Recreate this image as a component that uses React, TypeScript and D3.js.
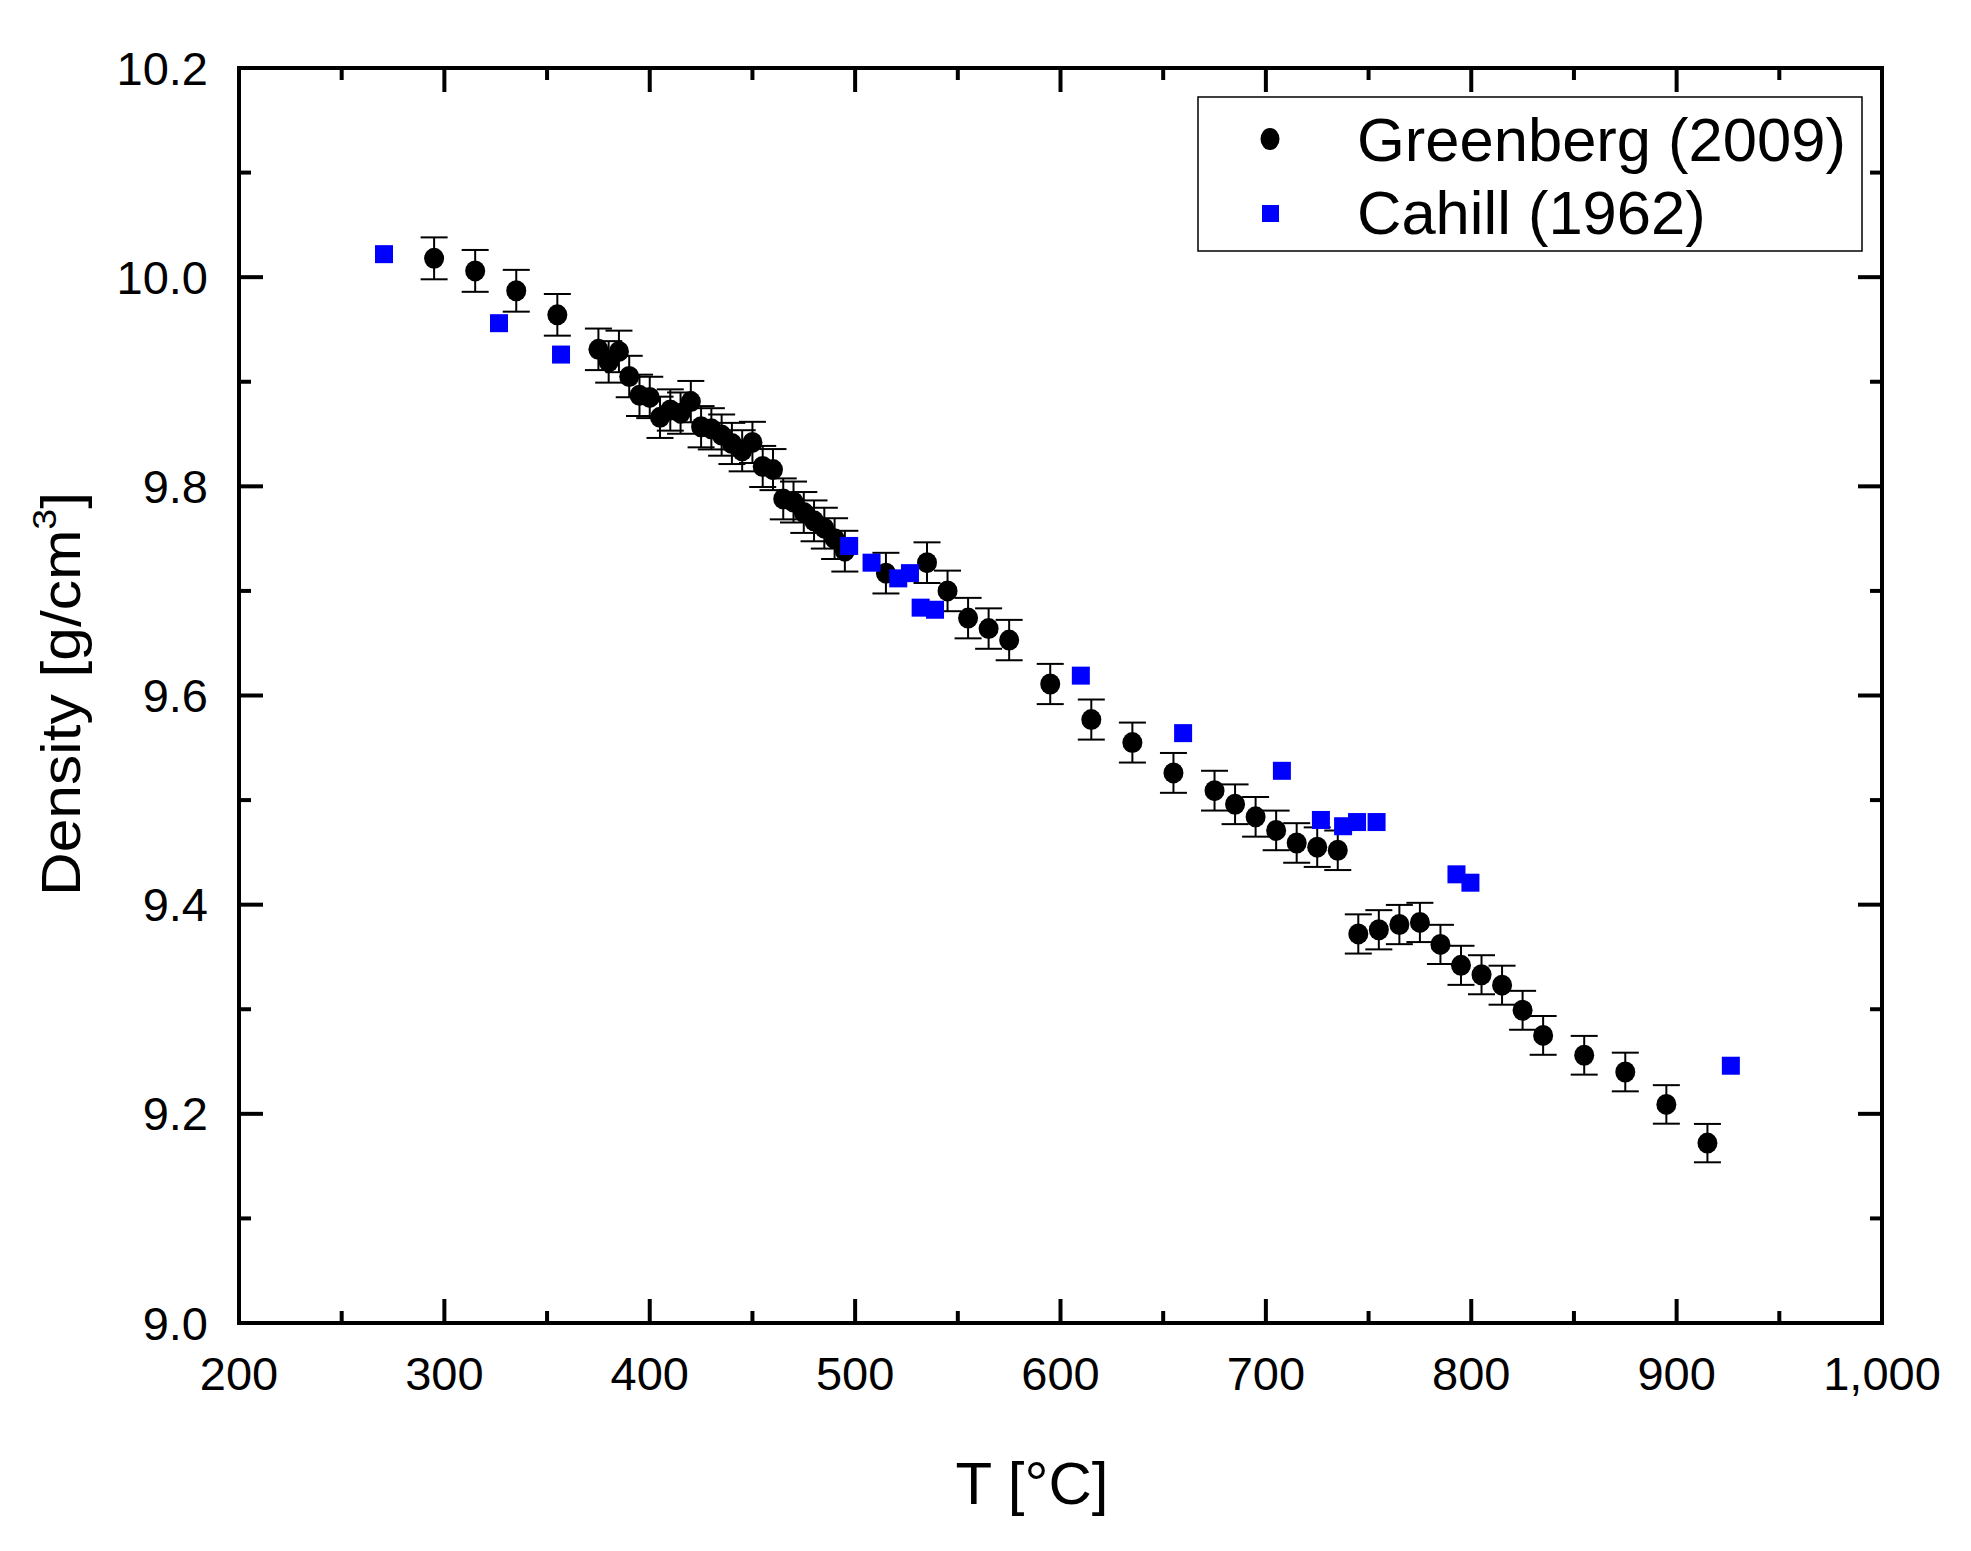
import React from 'react';
import * as d3 from 'd3';

// Greenberg (2009) — temperature [°C] and density [g/cm3]
const greenbergT = [295, 315, 335, 355, 375, 380, 385, 390, 395, 400, 405, 410, 415, 420, 425, 430, 435, 440, 445, 450, 455, 460, 465, 470, 475, 480, 485, 490, 495, 515, 535, 545, 555, 565, 575, 595, 615, 635, 655, 675, 685, 695, 705, 715, 725, 735, 745, 755, 765, 775, 785, 795, 805, 815, 825, 835, 855, 875, 895, 915];
const greenbergD = [10.018, 10.006, 9.987, 9.964, 9.931, 9.919, 9.929, 9.905, 9.887, 9.885, 9.866, 9.873, 9.870, 9.881, 9.857, 9.855, 9.849, 9.841, 9.834, 9.842, 9.819, 9.816, 9.788, 9.785, 9.775, 9.767, 9.760, 9.750, 9.738, 9.717, 9.727, 9.700, 9.674, 9.664, 9.653, 9.611, 9.577, 9.555, 9.526, 9.509, 9.496, 9.484, 9.471, 9.459, 9.455, 9.452, 9.372, 9.376, 9.381, 9.383, 9.362, 9.342, 9.333, 9.323, 9.299, 9.275, 9.256, 9.240, 9.209, 9.172];
// error bars read as about 0.2 % of the value
const greenbergRelErr = 0.002;

// Cahill (1962)
const cahillT = [270.6, 326.6, 356.8, 497.1, 508.0, 521.0, 526.7, 531.9, 538.9, 609.9, 659.7, 707.8, 726.8, 737.6, 744.4, 753.9, 792.8, 799.6, 926.4];
const cahillD = [10.022, 9.956, 9.926, 9.743, 9.727, 9.712, 9.717, 9.684, 9.682, 9.619, 9.564, 9.528, 9.481, 9.475, 9.479, 9.479, 9.429, 9.421, 9.246];

const xMajor = [200, 300, 400, 500, 600, 700, 800, 900, 1000];
const xMinor = [250, 350, 450, 550, 650, 750, 850, 950];
const yMajor = [9.0, 9.2, 9.4, 9.6, 9.8, 10.0, 10.2];
const yMinor = [9.1, 9.3, 9.5, 9.7, 9.9, 10.1];

const W = 1971;
const H = 1551;
const left = 239, right = 1882, top = 68, bottom = 1323;
const font = 'Arial, "Liberation Sans", sans-serif';

const App: React.FC = () => {
  const x = d3.scaleLinear().domain([200, 1000]).range([left, right]);
  const y = d3.scaleLinear().domain([9.0, 10.2]).range([bottom, top]);
  const fmtX = d3.format(',');
  const fmtY = d3.format('.1f');

  const major = 24, minor = 12;

  const greenberg = greenbergT.map((t, i) => ({ t, d: greenbergD[i] }));
  const cahill = cahillT.map((t, i) => ({ t, d: cahillD[i] }));

  return (
    <svg width={W} height={H} style={{ position: 'absolute', left: 0, top: 0, background: '#fff' }}
      fontFamily={font}>
      <rect x={0} y={0} width={W} height={H} fill="#fff" />

      {/* ticks, pointing inward on all four sides */}
      <g stroke="#000" strokeWidth={4}>
        {xMajor.map(v => (
          <g key={'xM' + v}>
            <line x1={x(v)} x2={x(v)} y1={bottom} y2={bottom - major} />
            <line x1={x(v)} x2={x(v)} y1={top} y2={top + major} />
          </g>
        ))}
        {xMinor.map(v => (
          <g key={'xm' + v}>
            <line x1={x(v)} x2={x(v)} y1={bottom} y2={bottom - minor} />
            <line x1={x(v)} x2={x(v)} y1={top} y2={top + minor} />
          </g>
        ))}
        {yMajor.map(v => (
          <g key={'yM' + v}>
            <line x1={left} x2={left + major} y1={y(v)} y2={y(v)} />
            <line x1={right} x2={right - major} y1={y(v)} y2={y(v)} />
          </g>
        ))}
        {yMinor.map(v => (
          <g key={'ym' + v}>
            <line x1={left} x2={left + minor} y1={y(v)} y2={y(v)} />
            <line x1={right} x2={right - minor} y1={y(v)} y2={y(v)} />
          </g>
        ))}
      </g>
      <rect x={left} y={top} width={right - left} height={bottom - top} fill="none" stroke="#000" strokeWidth={4} />

      {/* tick labels */}
      <g fontSize={47} fill="#000">
        {xMajor.map(v => (
          <text key={'xl' + v} x={x(v)} y={1390} textAnchor="middle">{fmtX(v)}</text>
        ))}
        {yMajor.map(v => (
          <text key={'yl' + v} x={208} y={y(v)} textAnchor="end" dominantBaseline="central">{fmtY(v)}</text>
        ))}
      </g>

      {/* axis titles */}
      <text x={1032} y={1504} fontSize={60} textAnchor="middle">T [°C]</text>
      <g transform="translate(80,694) rotate(-90) scale(1.1,1)">
        <text x={0} y={0} fontSize={55} textAnchor="middle">
          Density [g/cm<tspan fontSize={34} dy={-24}>3</tspan><tspan dy={24}>]</tspan>
        </text>
      </g>

      {/* Greenberg error bars and points */}
      <g stroke="#000" strokeWidth={2}>
        {greenberg.map((p, i) => {
          const e = p.d * greenbergRelErr;
          const cx = x(p.t);
          return (
            <g key={'e' + i}>
              <line x1={cx} x2={cx} y1={y(p.d - e)} y2={y(p.d + e)} />
              <line x1={cx - 13.5} x2={cx + 13.5} y1={y(p.d + e)} y2={y(p.d + e)} />
              <line x1={cx - 13.5} x2={cx + 13.5} y1={y(p.d - e)} y2={y(p.d - e)} />
            </g>
          );
        })}
      </g>
      <g fill="#000">
        {greenberg.map((p, i) => (
          <ellipse key={'g' + i} cx={x(p.t)} cy={y(p.d)} rx={10} ry={10.5} />
        ))}
      </g>

      {/* Cahill squares */}
      <g fill="#0000ff">
        {cahill.map((p, i) => (
          <rect key={'c' + i} x={x(p.t) - 9} y={y(p.d) - 9} width={18} height={18} />
        ))}
      </g>

      {/* legend */}
      <rect x={1198} y={97} width={664} height={154} fill="#fff" stroke="#000" strokeWidth={1.5} />
      <ellipse cx={1270} cy={139} rx={9.5} ry={11} fill="#000" />
      <rect x={1262} y={205} width={17} height={17} fill="#0000ff" />
      <text x={1357} y={161} fontSize={61.5}>Greenberg (2009)</text>
      <text x={1357} y={234} fontSize={61.5}>Cahill (1962)</text>
    </svg>
  );
};

export default App;
